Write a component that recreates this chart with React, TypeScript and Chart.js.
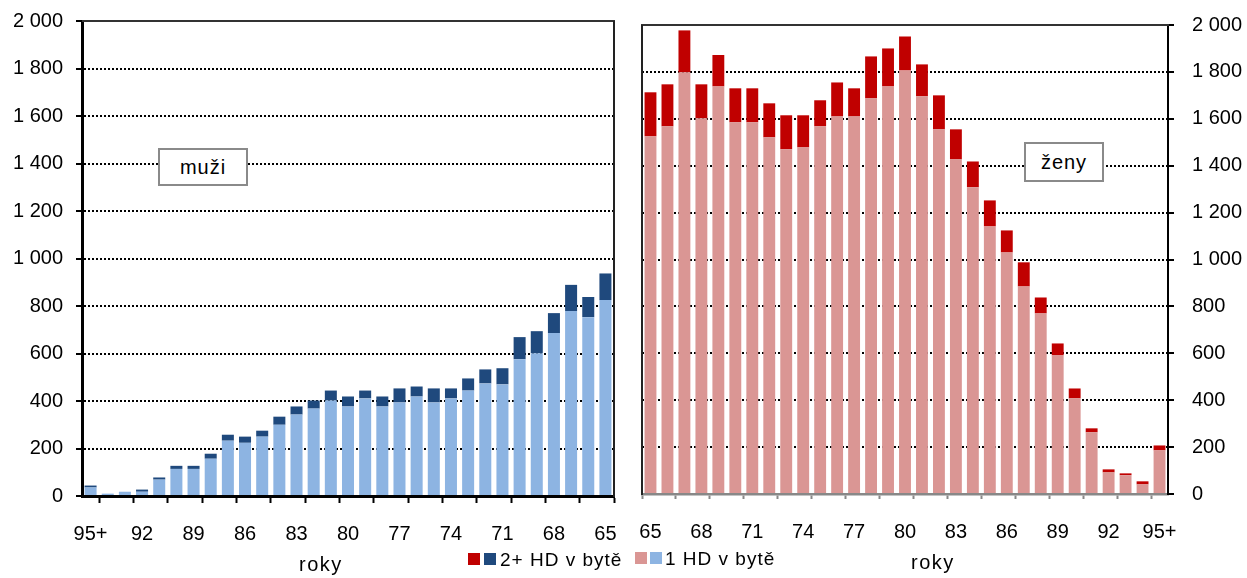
import React, { useEffect, useRef } from 'react';
import { Chart, registerables } from 'chart.js';

Chart.register(...registerables);

const FONT = "'Liberation Sans', Arial, Helvetica, sans-serif";

// Men: ages from 95+ down to 65
const menLabels = ['95+', '94', '93', '92', '91', '90', '89', '88', '87', '86', '85', '84', '83', '82', '81', '80', '79', '78', '77', '76', '75', '74', '73', '72', '71', '70', '69', '68', '67', '66', '65'];
const menOne = [36, 10, 18, 18, 69, 114, 114, 157, 233, 224, 250, 300, 343, 368, 402, 377, 411, 377, 394, 419, 394, 411, 444, 474, 470, 576, 601, 686, 779, 753, 825];
const menTwoPlus = [8, 0, 0, 9, 9, 13, 13, 21, 25, 26, 25, 34, 34, 34, 42, 42, 33, 42, 59, 42, 59, 42, 51, 59, 68, 93, 93, 84, 110, 85, 112];

// Women: ages from 65 up to 95+
const womenLabels = ['65', '66', '67', '68', '69', '70', '71', '72', '73', '74', '75', '76', '77', '78', '79', '80', '81', '82', '83', '84', '85', '86', '87', '88', '89', '90', '91', '92', '93', '94', '95+'];
const womenOne = [1525, 1568, 1798, 1602, 1738, 1585, 1585, 1521, 1470, 1478, 1568, 1610, 1610, 1687, 1738, 1806, 1696, 1555, 1427, 1308, 1141, 1030, 885, 770, 591, 408, 263, 92, 80, 41, 186];
const womenTwoPlus = [188, 179, 179, 145, 134, 145, 145, 145, 145, 137, 111, 145, 120, 179, 162, 145, 136, 145, 128, 110, 111, 94, 103, 68, 51, 42, 17, 13, 8, 13, 21];

const yTicksMax = 2000;
const yStep = 200;

const COLORS = {
  menLight: '#8DB4E2',
  menDark: '#1F497D',
  womenLight: '#DA9694',
  womenDark: '#C00000',
};

const fmt = (v: number) => {
  const s = String(Math.round(v));
  return s.length > 3 ? s.slice(0, s.length - 3) + ' ' + s.slice(-3) : s;
};

function framePlugin(lines: { x1: number; y1: number; x2: number; y2: number; color: string; width: number }[]) {
  return {
    id: 'frame',
    afterDraw(chart: any) {
      const ctx = chart.ctx;
      ctx.save();
      lines.forEach((l) => {
        ctx.beginPath();
        ctx.strokeStyle = l.color;
        ctx.lineWidth = l.width;
        ctx.moveTo(l.x1, l.y1);
        ctx.lineTo(l.x2, l.y2);
        ctx.stroke();
      });
      ctx.restore();
    },
  };
}

function yAxis(position: 'left' | 'right', width: number, borderWidth: number, padding: number) {
  return {
    position,
    stacked: true,
    min: 0,
    max: yTicksMax,
    afterFit: (s: any) => {
      s.width = width;
      s.paddingTop = 0;
      s.paddingBottom = 0;
    },
    ticks: {
      stepSize: yStep,
      padding,
      color: '#000',
      font: { family: FONT, size: 20 },
      callback: (v: any) => fmt(Number(v)),
    },
    grid: {
      color: (c: any) => (c.tick && c.tick.value > 0 && c.tick.value < yTicksMax ? '#000' : 'rgba(0,0,0,0)'),
      lineWidth: 2,
      drawTicks: true,
      tickLength: 6,
      tickColor: '#000',
      tickWidth: 2,
    },
    border: { display: true, color: '#000', width: borderWidth, dash: [2, 2] },
  };
}

function xAxis(labels: string[], height: number, padding: number, tickLength: number, color: string, borderWidth: number, tickOn: (i: number | undefined) => boolean) {
  return {
    stacked: true,
    afterFit: (s: any) => {
      s.height = height;
      s.paddingLeft = 0;
      s.paddingRight = 0;
    },
    ticks: {
      autoSkip: false,
      maxRotation: 0,
      minRotation: 0,
      padding,
      color: '#000',
      font: { family: FONT, size: 20 },
      callback: (v: any, i: number) => (i % 3 === 0 ? labels[i] : ''),
    },
    grid: {
      drawOnChartArea: false,
      drawTicks: true,
      tickLength,
      tickWidth: 2,
      color: 'rgba(0,0,0,0)',
      tickColor: (c: any) => (tickOn(c.index) ? color : 'rgba(0,0,0,0)'),
    },
    border: { display: true, color, width: borderWidth },
  };
}

export default function App() {
  const leftRef = useRef<HTMLCanvasElement>(null);
  const rightRef = useRef<HTMLCanvasElement>(null);

  useEffect(() => {
    document.body.style.margin = '0';
    const left = new Chart(leftRef.current as HTMLCanvasElement, {
      type: 'bar',
      data: {
        labels: menLabels,
        datasets: [
          { label: '1 HD v bytě', data: menOne, backgroundColor: COLORS.menLight, barPercentage: 0.7, categoryPercentage: 1 },
          { label: '2+ HD v bytě', data: menTwoPlus, backgroundColor: COLORS.menDark, barPercentage: 0.7, categoryPercentage: 1 },
        ],
      },
      options: {
        responsive: false,
        animation: false,
        layout: { padding: { top: 21, right: 11, left: 0, bottom: 0 } },
        plugins: { legend: { display: false }, tooltip: { enabled: false } },
        scales: {
          x: xAxis(menLabels, 82, 19, 7, '#000', 3, (i) => i === undefined || i % 2 === 1) as any,
          y: yAxis('left', 82, 3, 13) as any,
        },
      },
      plugins: [
        framePlugin([
          { x1: 82, y1: 21, x2: 615, y2: 21, color: '#333', width: 2 },
          { x1: 614, y1: 21, x2: 614, y2: 497, color: '#222', width: 2 },
        ]),
      ],
    } as any);

    const right = new Chart(rightRef.current as HTMLCanvasElement, {
      type: 'bar',
      data: {
        labels: womenLabels,
        datasets: [
          { label: '1 HD v bytě', data: womenOne, backgroundColor: COLORS.womenLight, barPercentage: 0.7, categoryPercentage: 1 },
          { label: '2+ HD v bytě', data: womenTwoPlus, backgroundColor: COLORS.womenDark, barPercentage: 0.7, categoryPercentage: 1 },
        ],
      },
      options: {
        responsive: false,
        animation: false,
        layout: { padding: { top: 25, right: 0, left: 17, bottom: 0 } },
        plugins: { legend: { display: false }, tooltip: { enabled: false } },
        scales: {
          x: xAxis(womenLabels, 84, 21, 5, '#888', 2.5, (i) => i !== undefined && i % 2 === 0) as any,
          y: yAxis('right', 79, 2, 18) as any,
        },
      },
      plugins: [
        framePlugin([
          { x1: 16, y1: 25, x2: 544, y2: 25, color: '#333', width: 2 },
          { x1: 17, y1: 25, x2: 17, y2: 495, color: '#222', width: 2 },
        ]),
      ],
    } as any);

    return () => {
      left.destroy();
      right.destroy();
    };
  }, []);

  const textStyle: React.CSSProperties = {
    position: 'absolute',
    fontFamily: FONT,
    color: '#000',
    whiteSpace: 'nowrap',
  };
  const sq = (x: number, y: number, c: string): React.CSSProperties => ({
    position: 'absolute',
    left: x,
    top: y,
    width: 12,
    height: 12,
    background: c,
  });
  const box = (x: number, y: number, w: number, h: number): React.CSSProperties => ({
    position: 'absolute',
    left: x,
    top: y,
    width: w,
    height: h,
    boxSizing: 'border-box',
    border: '2px solid #8a8a8a',
    background: '#fff',
    display: 'flex',
    alignItems: 'center',
    justifyContent: 'center',
    fontFamily: FONT,
    fontSize: 20,
    letterSpacing: 1,
    color: '#000',
  });

  return (
    <div style={{ position: 'absolute', left: 0, top: 0, width: 1247, height: 578, background: '#fff', overflow: 'hidden' }}>
      <canvas ref={leftRef} width={625} height={578} style={{ position: 'absolute', left: 0, top: 0, display: 'block' }} />
      <canvas ref={rightRef} width={622} height={578} style={{ position: 'absolute', left: 625, top: 0, display: 'block' }} />

      <div style={box(158, 148, 90, 38)}>muži</div>
      <div style={box(1024, 142, 80, 40)}>ženy</div>

      <div style={sq(468, 553, COLORS.womenDark)} />
      <div style={sq(484, 553, COLORS.menDark)} />
      <div style={{ ...textStyle, left: 500, top: 550, fontSize: 19, lineHeight: '19px', letterSpacing: 1 }}>2+ HD v bytě</div>
      <div style={sq(635, 552, COLORS.womenLight)} />
      <div style={sq(650, 552, COLORS.menLight)} />
      <div style={{ ...textStyle, left: 665, top: 549, fontSize: 19, lineHeight: '19px', letterSpacing: 1 }}>1 HD v bytě</div>

      <div style={{ ...textStyle, left: 299, top: 554, fontSize: 20, lineHeight: '20px', letterSpacing: 1.5 }}>roky</div>
      <div style={{ ...textStyle, left: 911, top: 552, fontSize: 20, lineHeight: '20px', letterSpacing: 1.5 }}>roky</div>
    </div>
  );
}
